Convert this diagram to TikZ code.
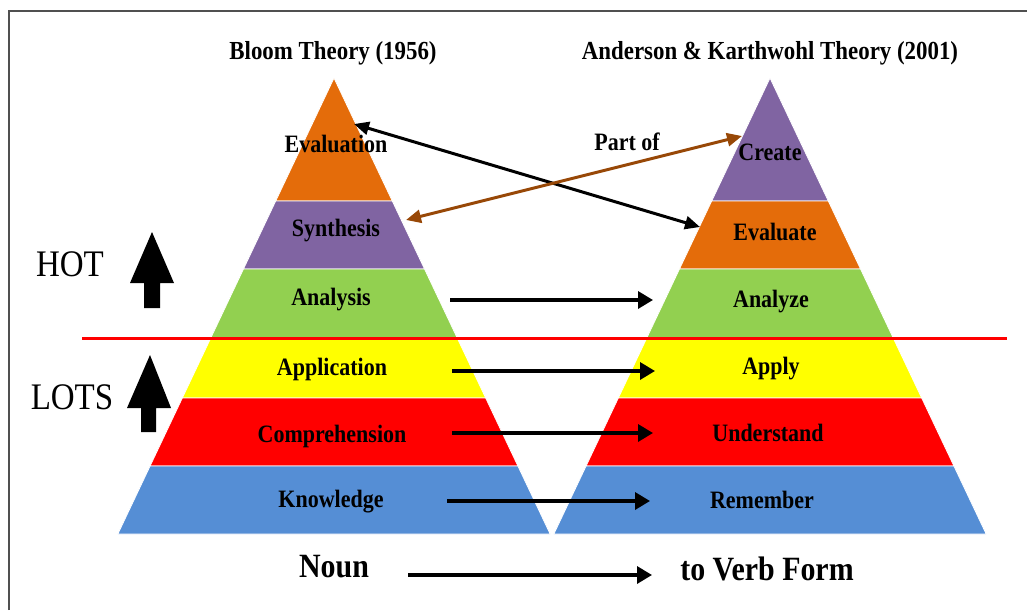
\documentclass[tikz,border=0pt]{standalone}
\usepackage{fontspec}
\setmainfont{Liberation Serif}
\newfontfamily\narrowserif[FakeStretch=0.88]{Liberation Serif}
\usepackage{xcolor}
\usepackage{tikz}
\usetikzlibrary{arrows.meta}

\definecolor{evalorange}{HTML}{E46C0A}
\definecolor{synpurple}{HTML}{8064A2}
\definecolor{anagreen}{HTML}{92D050}
\definecolor{appyellow}{HTML}{FFFF00}
\definecolor{comred}{HTML}{FF0000}
\definecolor{knowblue}{HTML}{558ED5}
\definecolor{partbrown}{HTML}{984807}
\definecolor{framegray}{HTML}{505050}

\tikzset{
  band/.style={draw=white, line width=0.8pt},
  lbl/.style={font=\narrowserif\fontsize{25}{27}\selectfont\bfseries, inner sep=0pt},
  ttl/.style={font=\narrowserif\fontsize{26}{28}\selectfont\bfseries, inner sep=0pt},
  big/.style={font=\narrowserif\fontsize{37.5}{40}\selectfont, inner sep=0pt},
  form/.style={font=\narrowserif\fontsize{34}{36}\selectfont\bfseries, inner sep=0pt},
  flow/.style={-{Triangle[length=15pt,width=17pt]}, line width=3.4pt},
  link/.style={{Triangle[length=15pt,width=13pt]}-{Triangle[length=15pt,width=13pt]}, line width=3pt},
}

% one slice of a pyramid: centre x, top y, bottom y, colour
\newcommand{\pyrband}[4]{%
  \fill[#4, band] ({#1-0.474*(#2-78)},#2) -- ({#1+0.474*(#2-78)},#2)
    -- ({#1+0.474*(#3-78)},#3) -- ({#1-0.474*(#3-78)},#3) -- cycle;}

\begin{document}
\begin{tikzpicture}[x=1pt, y=-1pt]
\useasboundingbox (0,0) rectangle (1027,610);
\draw[framegray, line width=1.5pt] (9,610) -- (9,11) -- (1027,11);

% Bloom pyramid
\pyrband{334}{78}{201}{evalorange}
\pyrband{334}{201}{269}{synpurple}
\pyrband{334}{269}{338}{anagreen}
\pyrband{334}{338}{398}{appyellow}
\pyrband{334}{398}{466}{comred}
\pyrband{334}{466}{534}{knowblue}

% Anderson & Krathwohl pyramid
\pyrband{770}{78}{201}{synpurple}
\pyrband{770}{201}{269}{evalorange}
\pyrband{770}{269}{338}{anagreen}
\pyrband{770}{338}{398}{appyellow}
\pyrband{770}{398}{466}{comred}
\pyrband{770}{466}{534}{knowblue}

\node[ttl] (bloom) at (333,53) {Bloom Theory (1956)};
\node[ttl] (anderson) at (770,53) {Anderson \& Karthwohl Theory (2001)};

\node[lbl] (evaluation) at (336,144) {Evaluation};
\node[lbl] (synthesis) at (336,231) {Synthesis};
\node[lbl] (analysis) at (331,300) {Analysis};
\node[lbl] (application) at (332,369) {Application};
\node[lbl] (comprehension) at (332,436) {Comprehension};
\node[lbl] (knowledge) at (331,502) {Knowledge};

\node[lbl] (create) at (770,152) {Create};
\node[lbl] (evaluate) at (775,232) {Evaluate};
\node[lbl] (analyze) at (771,302) {Analyze};
\node[lbl] (apply) at (771,369) {Apply};
\node[lbl] (understand) at (768,433) {Understand};
\node[lbl] (remember) at (762,500) {Remember};

% HOT / LOTS divide
\draw[comred, line width=3pt] (82,338) -- (1007,338);
\node[big] (hot) at (70,264) {HOT};
\node[big] (lots) at (72,397) {LOTS};
\fill (144,308) -- (144,283) -- (130,283) -- (152,232) -- (174,283) -- (160,283) -- (160,308) -- cycle;
\fill (141,432) -- (141,408) -- (127,408) -- (150,355) -- (171,408) -- (156,408) -- (156,432) -- cycle;

% crossing links
\coordinate (evalL) at (354,124);
\coordinate (evalR) at (700,227);
\coordinate (synL) at (406,220);
\coordinate (createR) at (742,136);
\draw[link] (evalL) -- (evalR);
\draw[link, partbrown] (synL) -- (createR);
\node[lbl] (partof) at (627,142) {Part of};

% noun to verb
\foreach \nm/\xa/\xb/\yy in {ana/450/653/300, app/452/655/371, com/452/653/433, know/447/650/501, noun/408/652/575}{
  \coordinate (\nm-a) at (\xa,\yy);
  \coordinate (\nm-b) at (\xb,\yy);
  \draw[flow] (\nm-a) -- (\nm-b);
}
\node[form] (noun) at (334,567) {Noun};
\node[form] (verb) at (767,569) {to Verb Form};
\end{tikzpicture}
\end{document}
